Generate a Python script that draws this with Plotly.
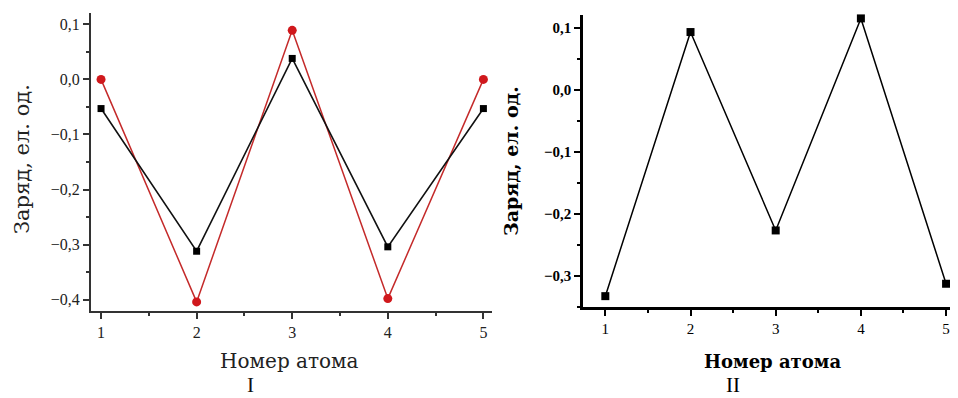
import plotly.graph_objects as go

atoms = [1, 2, 3, 4, 5]
charge_I_black = [-0.053, -0.312, 0.038, -0.304, -0.053]
charge_I_red = [0.0, -0.404, 0.089, -0.398, 0.0]
charge_II = [-0.333, 0.093, -0.227, 0.115, -0.313]

# The page body has an 8px margin; the figure is sized so it ends at the window edge.
OFF = 8
W, H = 958 - OFF, 398 - OFF

def px_x(a, b):
    return [(a - OFF) / W, min(1.0, (b - OFF) / W)]

def px_y(top, bottom):
    return [1 - (bottom - OFF) / H, 1 - (top - OFF) / H]

def pt(x, y):
    return (x - OFF) / W, 1 - (y - OFF) / H

fig = go.Figure()

fig.add_trace(go.Scatter(x=atoms, y=charge_I_red, mode="lines+markers",
                         line=dict(color="#c42a2a", width=1.5),
                         marker=dict(symbol="circle", size=9, color="#d0181c"),
                         xaxis="x", yaxis="y", showlegend=False, cliponaxis=False))
fig.add_trace(go.Scatter(x=atoms, y=charge_I_black, mode="lines+markers",
                         line=dict(color="#111111", width=1.6),
                         marker=dict(symbol="square", size=7, color="#000000"),
                         xaxis="x", yaxis="y", showlegend=False, cliponaxis=False))
fig.add_trace(go.Scatter(x=atoms, y=charge_II, mode="lines+markers",
                         line=dict(color="#000000", width=1.5),
                         marker=dict(symbol="square", size=8, color="#000000"),
                         xaxis="x2", yaxis="y2", showlegend=False, cliponaxis=False))

tickfont_I = dict(family="Liberation Serif", size=16, color="#222222")
tickfont_II = dict(family="Liberation Serif", size=15, color="#000000")

fig.update_layout(
    width=W, height=H,
    margin=dict(l=0, r=0, t=0, b=0),
    paper_bgcolor="white", plot_bgcolor="white",
    separators=", ",
    xaxis=dict(domain=px_x(91, 492), range=[0.895, 5.09], anchor="y",
               tickvals=atoms, ticks="outside", ticklen=6, tickwidth=1.5,
               tickcolor="#333333", showline=True, linecolor="#333333", linewidth=2,
               showgrid=False, zeroline=False, tickfont=tickfont_I,
               minor=dict(dtick=0.5, tick0=0, ticks="outside", ticklen=3, tickcolor="#333333")),
    yaxis=dict(domain=px_y(13, 311), range=[-0.4205, 0.1205], anchor="x",
               dtick=0.1, tick0=0, tickformat=".1f", ticks="outside", ticklen=6, tickwidth=1.5,
               tickcolor="#333333", showline=True, linecolor="#333333", linewidth=2,
               showgrid=False, zeroline=False, tickfont=tickfont_I,
               minor=dict(dtick=0.05, tick0=0, ticks="outside", ticklen=3, tickcolor="#333333")),
    xaxis2=dict(domain=px_x(583, 958), range=[0.738, 5.14], anchor="y2",
                tickvals=atoms, ticks="outside", ticklen=6, tickwidth=2,
                tickcolor="#000000", showline=True, linecolor="#000000", linewidth=2.5,
                showgrid=False, zeroline=False, tickfont=tickfont_II,
                tickprefix="<b>", ticksuffix="</b>",
                minor=dict(dtick=0.5, tick0=0, ticks="outside", ticklen=3, tickcolor="#000000")),
    yaxis2=dict(domain=px_y(15, 307), range=[-0.3505, 0.1205], anchor="x2",
                dtick=0.1, tick0=0, tickformat=".1f", ticks="outside", ticklen=6, tickwidth=2,
                tickcolor="#000000", showline=True, linecolor="#000000", linewidth=2.5,
                showgrid=False, zeroline=False, tickfont=tickfont_II,
                tickprefix="<b>", ticksuffix="</b>",
                minor=dict(dtick=0.05, tick0=0, ticks="outside", ticklen=3, tickcolor="#000000")),
)

texts = [
    ("Номер атома", 289, 361, 0, dict(family="DejaVu Serif", size=20, color="#222222")),
    ("Заряд, ел. од.", 22, 159, -90, dict(family="DejaVu Serif", size=21, color="#222222")),
    ("<b>Номер атома</b>", 772, 361, 0, dict(family="DejaVu Serif", size=18, color="#000000")),
    ("<b>Заряд, ел. од.</b>", 511, 161, -90, dict(family="DejaVu Serif", size=19, color="#000000")),
    ("I", 250, 385, 0, dict(family="Liberation Serif", size=21, color="#111111")),
    ("II", 733, 385, 0, dict(family="Liberation Serif", size=21, color="#000000")),
]
for text, x, y, ang, font in texts:
    ax, ay = pt(x, y)
    fig.add_annotation(text=text, x=ax, y=ay, xref="paper", yref="paper",
                       xanchor="center", yanchor="middle", showarrow=False,
                       textangle=ang, font=font)

fig.write_html("out.html")
